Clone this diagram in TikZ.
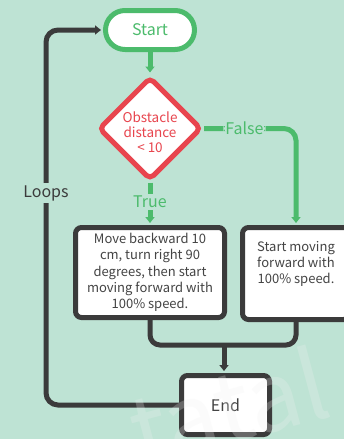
\documentclass[tikz,border=0pt]{standalone}
\usepackage{fontspec}
\setmainfont{Noto Sans CJK SC}
\usetikzlibrary{shapes.geometric,arrows.meta,calc}
\definecolor{bg}{HTML}{BEE3D4}
\definecolor{grn}{HTML}{4CBB6C}
\definecolor{rd}{HTML}{E8454E}
\definecolor{dk}{HTML}{3B3B3B}
\definecolor{txt}{HTML}{444444}
\tikzset{
  big/.style={font=\fontsize{16}{19}\selectfont},
  startn/.style={draw=grn, line width=5pt, fill=white, rounded corners=19.5pt,
    minimum width=89pt, minimum height=39pt, inner sep=0pt, text=grn, big},
  decn/.style={shape=diamond, draw=rd, line width=5pt, fill=white, rounded corners=5pt,
    minimum width=103pt, minimum height=103pt, inner sep=0pt},
  dectext/.style={text=rd, align=center, inner sep=0pt, font=\fontsize{13.5}{15}\selectfont},
  boxn/.style={draw=dk, line width=5pt, fill=white, rounded corners=6pt, inner sep=0pt},
  btext/.style={text=txt, align=center, inner sep=0pt, font=\fontsize{13}{16.2}\selectfont},
  gline/.style={draw=grn, line width=5pt, -{Triangle[width=9pt,length=6pt]}, shorten >=2pt},
  dline/.style={draw=dk, line width=5pt},
  darr/.style={draw=dk, line width=5pt, -{Triangle[width=9pt,length=6pt]}, shorten >=2pt},
  lbl/.style={fill=bg, inner sep=2pt, big},
}
\begin{document}
\begin{tikzpicture}[x=1pt,y=-1pt]
\useasboundingbox (0,0) rectangle (344,439);
\clip (0,0) rectangle (344,439);
\fill[bg] (0,0) rectangle (344,439);

% nodes
\node[startn] (start) at (150,30) {Start};
\node[decn] (dia) at (150,128.5) {};
\node[dectext] (diat) at ($(dia.center)+(0,3.5)$) {Obstacle\\distance\\< 10};
\node[boxn, minimum width=149pt, minimum height=90pt] (lbox) at (150,272.5) {};
\node[btext] (ltext) at (lbox.center) {Move backward 10\\cm, turn right 90\\degrees, then start\\moving forward with\\100\% speed.};
\node[boxn, minimum width=107pt, minimum height=92pt] (rbox) at (296,273.5) {};
\node[btext] (rtext) at ($(rbox.center)+(0,-9.5)$) {Start moving\\forward with\\100\% speed.};
\node[boxn, minimum width=88pt, minimum height=59pt, text=txt, big] (endn) at (225.5,405) {End};

% connectors
\draw[gline] (start.south) -- (dia.north);
\draw[gline, rounded corners=12pt] (dia.east) -| (rbox.north) node[lbl, text=grn, pos=0.22] (flbl) {False};
\draw[gline] (dia.south) -- (lbox.north) node[lbl, text=grn, pos=0.46] (tlbl) {True};

\coordinate (lc) at (46,30);
\draw[darr, rounded corners=12pt] (endn.west) -| (lc) -- (start.west);
\node[lbl, text=dk] (loops) at (46,193) {Loops};

\coordinate (j) at (224,345);
\draw[dline, rounded corners=10pt] (lbox.south) |- (j) -| (rbox.south);
\draw[darr] (j) -- (j |- endn.north);

% watermark
\node[rotate=15, anchor=base west, text=gray!12, opacity=0.25,
  font=\fontsize{95}{95}\selectfont] (wm) at (138,468) {tatal};
\end{tikzpicture}
\end{document}
